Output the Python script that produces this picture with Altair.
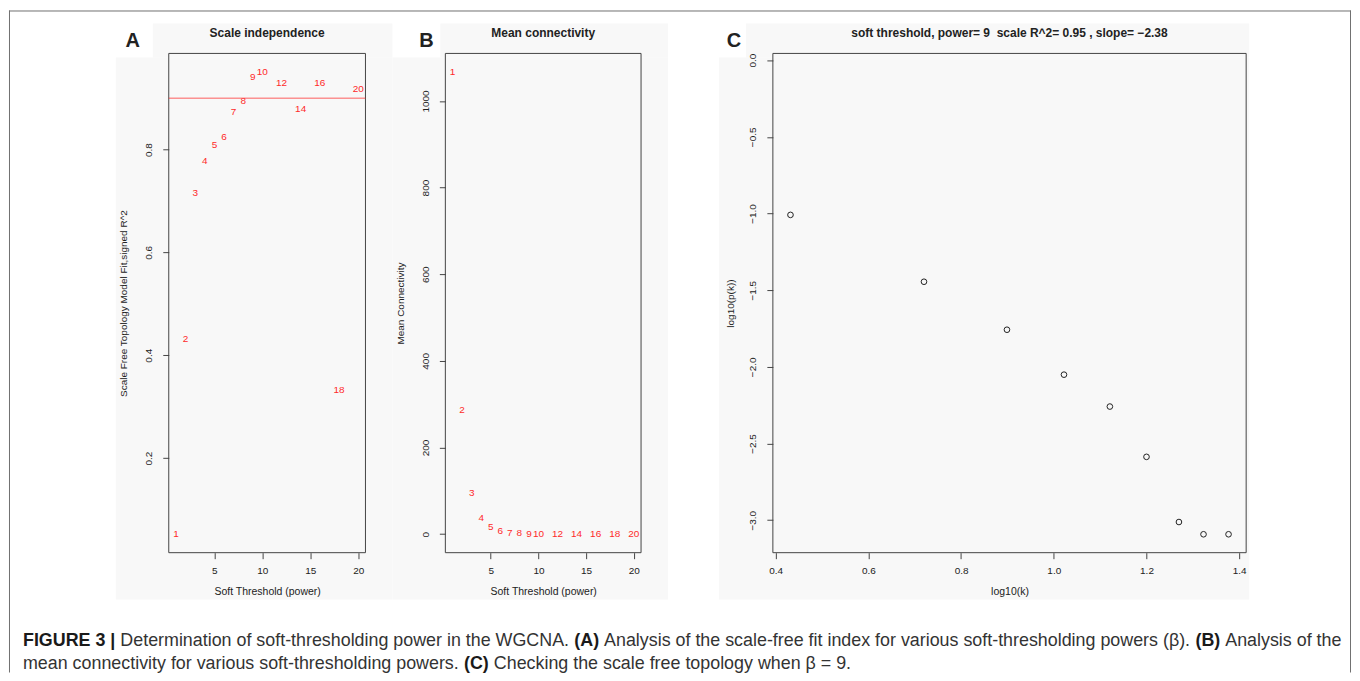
import altair as alt
import pandas as pd

# ------------------------------------------------------------------ data
powers = [1, 2, 3, 4, 5, 6, 7, 8, 9, 10, 12, 14, 16, 18, 20]
scale_fit_r2 = [0.052, 0.431, 0.715, 0.777, 0.809, 0.824, 0.874, 0.894,
                0.941, 0.951, 0.930, 0.879, 0.930, 0.332, 0.918]
mean_connectivity = [1067, 286, 96, 38.5, 17, 7.7, 3.8, 2.0, 1.1, 0.6,
                     0.25, 0.12, 0.06, 0.03, 0.02]
r2_cutoff = [0.90]

log10_k = [0.432, 0.720, 0.899, 1.022, 1.121, 1.200, 1.270, 1.323, 1.377]
log10_pk = [-1.009, -1.445, -1.758, -2.051, -2.259, -2.587, -3.012, -3.092, -3.092]

x_ticks_power = [5, 10, 15, 20]
y_ticks_a = [0.2, 0.4, 0.6, 0.8]
y_ticks_b = [0, 200, 400, 600, 800, 1000]
x_ticks_c = [0.4, 0.6, 0.8, 1.0, 1.2, 1.4]
y_ticks_c = [0.0, -0.5, -1.0, -1.5, -2.0, -2.5, -3.0]

panel_titles = ["Scale independence", "Mean connectivity",
                "soft threshold, power= 9 \u00a0scale R^2= 0.95 , slope= \u22122.38"]
panel_letters = ["A", "B", "C"]
x_titles = ["Soft Threshold (power)", "Soft Threshold (power)", "log10(k)"]
y_titles = ["Scale Free Topology Model Fit,signed R^2", "Mean Connectivity", "log10(p(k))"]

caption_line1 = [("FIGURE 3 |", True), (" Determination of soft-thresholding power in the WGCNA. ", False),
                 ("(A)", True), (" Analysis of the scale-free fit index for various soft-thresholding powers (\u03b2). ", False),
                 ("(B)", True), (" Analysis of the", False)]
caption_line2 = [("mean connectivity for various soft-thresholding powers. ", False),
                 ("(C)", True), (" Checking the scale free topology when \u03b2 = 9.", False)]

# ------------------------------------------------------------------ style
FONT = "Liberation Sans, Arial, Helvetica, sans-serif"
INK = "#222222"
BOX = "#444444"
RED = "#ff2a2a"
PANEL_BG = "#f8f8f8"
H = 500

# panel plot-area origins on the page (for decoration only)
OX = [168, 445, 773]
OY = 53
PW = [197, 196, 474]           # plot widths
VW = [445 - 168, 773 - 445, 474]  # view widths (flush layout, spacing 0)

one = pd.DataFrame({"_": [0]})

REG = {' ': 278, '(': 333, ')': 333, '.': 278, ',': 278, '-': 333, '=': 584, '|': 260,
       '\u03b2': 575, 'A': 667, 'B': 667, 'C': 722, 'D': 722, 'F': 611, 'G': 778, 'N': 722,
       'W': 944, 'I': 278, 'E': 667, 'R': 722, 'U': 722, 'T': 611, 'S': 667, 'M': 833,
       'a': 556, 'b': 556, 'c': 500, 'd': 556, 'e': 556, 'f': 278, 'g': 556, 'h': 556,
       'i': 222, 'j': 222, 'k': 500, 'l': 222, 'm': 833, 'n': 556, 'o': 556, 'p': 556,
       'q': 556, 'r': 333, 's': 500, 't': 278, 'u': 556, 'v': 500, 'w': 722, 'x': 500,
       'y': 500, 'z': 500}
BOLD = {' ': 278, '(': 333, ')': 333, '|': 280, 'A': 722, 'B': 722, 'C': 722, 'F': 611,
        'G': 778, 'I': 278, 'U': 722, 'R': 722, 'E': 667}


def text_width(s, bold, size):
    table = BOLD if bold else REG
    return sum(table.get(ch, 556) for ch in s) * size / 1000.0


def dtext(txt, x, y, size, bold=False, align="center", color=INK):
    return alt.Chart(one).mark_text(
        font=FONT, fontSize=size, fontWeight="bold" if bold else "normal",
        align=align, baseline="middle", color=color
    ).encode(x=alt.value(x), y=alt.value(y), text=alt.value(txt))


def drect(x, x2, y, y2, fill, stroke=None):
    kw = dict(fill=fill)
    if stroke:
        kw.update(stroke=stroke, strokeWidth=1)
    return alt.Chart(one).mark_rect(**kw).encode(
        x=alt.value(x), x2=alt.value(x2), y=alt.value(y), y2=alt.value(y2))


def drule(x, x2, y, y2, color, width=1):
    return alt.Chart(one).mark_rule(color=color, strokeWidth=width).encode(
        x=alt.value(x), x2=alt.value(x2), y=alt.value(y), y2=alt.value(y2))


def x_axis(values, title, fmt, w):
    return alt.Axis(values=values, format=fmt, title=title, domain=False, grid=False,
                    ticks=True, tickSize=6, tickColor=BOX, tickWidth=1, zindex=2,
                    labelFont=FONT, labelFontSize=10, labelColor=INK, labelPadding=12,
                    labelBaseline="middle", labelAlign="center", labelOverlap=False,
                    titleFont=FONT, titleFontSize=10.5, titleFontWeight="normal",
                    titleColor=INK, titleX=w / 2, titleY=39, titleBaseline="middle",
                    titleAlign="center")


def y_axis(values, title, fmt, tx):
    return alt.Axis(values=values, format=fmt, title=title, domain=False, grid=False,
                    ticks=True, tickSize=6, tickColor=BOX, tickWidth=1, zindex=2,
                    labelFont=FONT, labelFontSize=10, labelColor=INK, labelPadding=14,
                    labelAngle=270, labelBaseline="middle", labelAlign="center",
                    labelOverlap=False,
                    titleFont=FONT, titleFontSize=10, titleFontWeight="normal",
                    titleColor=INK, titleAngle=270, titleX=tx, titleY=H / 2,
                    titleBaseline="middle", titleAlign="center")


def panel_background(i, letter_left):
    ox = OX[i]
    right = [392, 668, 1250][i]
    layers = [
        drect(letter_left - ox, right - ox, 57 - OY, 600 - OY, PANEL_BG),
        drect([152, 440, 746][i] - ox, right - ox, 23 - OY, 57 - OY, PANEL_BG),
        drect(0, PW[i], 0, H, "transparent", BOX),
        dtext(panel_letters[i], [132, 426, 734][i] - ox, 41 - OY, 20, bold=True),
        dtext(panel_titles[i], PW[i] / 2, 32.5 - OY, 12, bold=True),
    ]
    return layers


# ------------------------------------------------------------------ panel A
df_a = pd.DataFrame({"power": powers, "r2": scale_fit_r2,
                     "lab": [str(p) for p in powers]})
xa = alt.X("power:Q", scale=alt.Scale(domain=[0.24, 20.76], range=[0, PW[0]], nice=False, zero=False),
           axis=x_axis(x_ticks_power, x_titles[0], "d", PW[0]))
ya = alt.Y("r2:Q", scale=alt.Scale(domain=[0.016, 0.987], nice=False, zero=False),
           axis=y_axis(y_ticks_a, y_titles[0], ".1f", -45))

pts_a = alt.Chart(df_a).mark_text(font=FONT, fontSize=10, color=RED).encode(
    x=xa, y=ya, text="lab:N")
cut_a = alt.Chart(pd.DataFrame({"r2": r2_cutoff})).mark_rule(color=RED, strokeWidth=1, opacity=0.75).encode(
    y=alt.Y("r2:Q", scale=alt.Scale(domain=[0.016, 0.987], nice=False, zero=False)),
    x=alt.value(0), x2=alt.value(PW[0]))

ox = OX[0]
deco_page = [
    drect(8 - ox, 1352 - ox, 8 - OY, 673 - OY, "white"),
    drule(8.5 - ox, 8.5 - ox, 10 - OY, 673 - OY, "#707070"),
    drule(1351.5 - ox, 1351.5 - ox, 10 - OY, 673 - OY, "#707070"),
    drule(8 - ox, 1352 - ox, 10.5 - OY, 10.5 - OY, "#707070"),
]

CAP = 17.9
cap_layers = []
for line, ypage in ((caption_line1, 641.5), (caption_line2, 664.5)):
    xpos = 22.0
    for seg, bold in line:
        lead = len(seg) - len(seg.lstrip(" "))
        xpos += text_width(" " * lead, bold, CAP)
        core = seg.strip(" ")
        cap_layers.append(dtext(core, xpos - ox, ypage - OY, CAP, bold=bold, align="left",
                                color="#1a1a1a" if bold else "#333333"))
        xpos += text_width(core, bold, CAP)
        trail = len(seg) - len(seg.rstrip(" "))
        xpos += text_width(" " * trail, bold, CAP)

panel_a = alt.layer(*deco_page, *panel_background(0, 115), cut_a, pts_a, *cap_layers).properties(
    width=VW[0], height=H)

# ------------------------------------------------------------------ panel B
df_b = pd.DataFrame({"power": powers, "k": mean_connectivity,
                     "lab": [str(p) for p in powers]})
xb = alt.X("power:Q", scale=alt.Scale(domain=[0.24, 20.76], range=[0, PW[1]], nice=False, zero=False),
           axis=x_axis(x_ticks_power, x_titles[1], "d", PW[1]))
yb = alt.Y("k:Q", scale=alt.Scale(domain=[-42.7, 1109.7], nice=False, zero=False),
           axis=y_axis(y_ticks_b, y_titles[1], "d", -45))
pts_b = alt.Chart(df_b).mark_text(font=FONT, fontSize=10, color=RED).encode(
    x=xb, y=yb, text="lab:N")
panel_b = alt.layer(*panel_background(1, 392), pts_b).properties(width=VW[1], height=H)

# ------------------------------------------------------------------ panel C
df_c = pd.DataFrame({"lk": log10_k, "lpk": log10_pk})
xc = alt.X("lk:Q", scale=alt.Scale(domain=[0.394, 1.415], range=[0, PW[2]], nice=False, zero=False),
           axis=x_axis(x_ticks_c, x_titles[2], ".1f", PW[2]))
yc = alt.Y("lpk:Q", scale=alt.Scale(domain=[-3.212, 0.044], nice=False, zero=False),
           axis=y_axis(y_ticks_c, y_titles[2], ".1f", -42))
pts_c = alt.Chart(df_c).mark_point(shape="circle", filled=False, size=32, color=INK,
                                   strokeWidth=1, opacity=1).encode(x=xc, y=yc)
panel_c = alt.layer(*panel_background(2, 719), pts_c).properties(width=VW[2], height=H)

chart = alt.hconcat(panel_a, panel_b, panel_c, spacing=0, bounds="flush").properties(
    padding=0
).configure(background="white").configure_view(stroke=None)

chart.save("out.html", embed_options={"renderer": "svg", "actions": False})
